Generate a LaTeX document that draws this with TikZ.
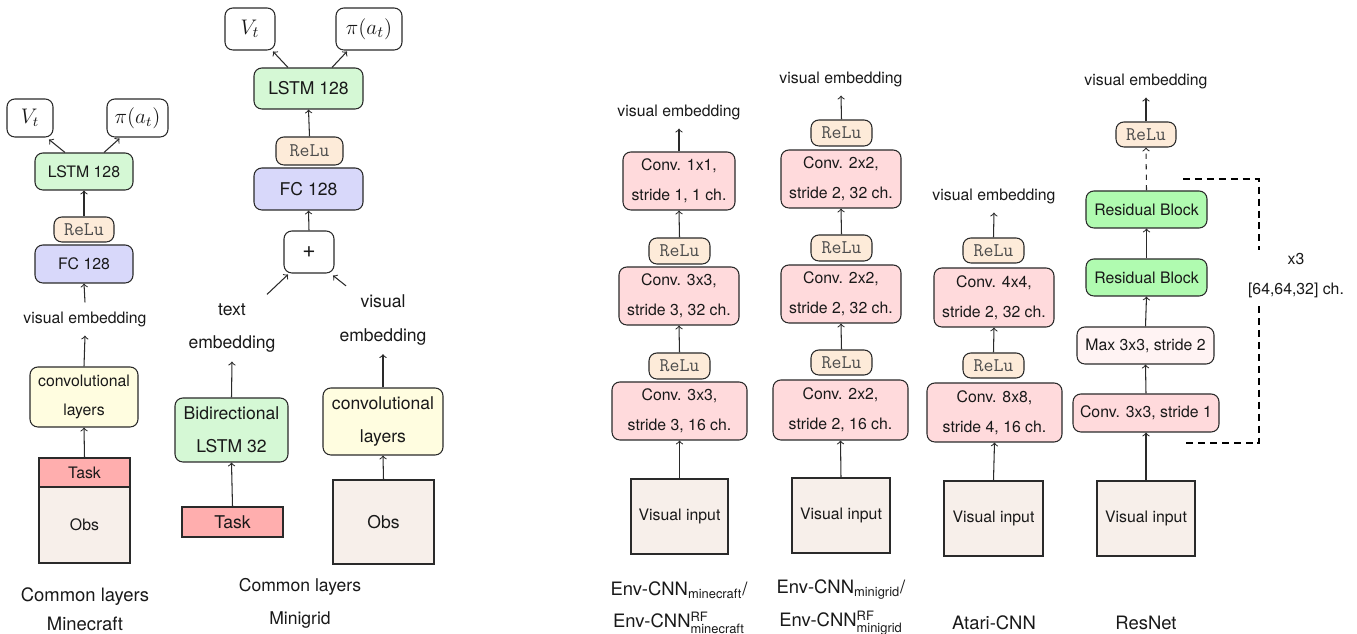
\documentclass[tikz,border=0pt]{standalone}
\usepackage{fontspec}
\usepackage{amsmath}
\setmainfont{TeX Gyre Heros}
\usetikzlibrary{calc}

\definecolor{lstmgreen}{HTML}{D5F8D5}
\definecolor{fcblue}{HTML}{D8D8FA}
\definecolor{relupeach}{HTML}{FDEBD9}
\definecolor{convyellow}{HTML}{FFFDE0}
\definecolor{taskred}{HTML}{FFAEAE}
\definecolor{obsbeige}{HTML}{F7EFEA}
\definecolor{convpink}{HTML}{FFDADC}
\definecolor{resgreen}{HTML}{B0FBB0}
\definecolor{maxpink}{HTML}{FFF3F3}
\definecolor{linegray}{HTML}{2A2A2A}

\tikzset{
	wh/.style 2 args={minimum width=#1*0.02cm, minimum height=#2*0.02cm},
	layer/.style={draw=linegray, line width=0.6pt, rounded corners=4.5pt, align=center, inner sep=0pt, text=black!90},
	inputbox/.style={draw=linegray, line width=0.6pt, fill=obsbeige, align=center, inner sep=0pt, text=black!90},
	relubox/.style={layer, fill=relupeach, font=\ttfamily\fontsize{11}{12}\selectfont, text=black!70},
	embtext/.style={inner sep=5pt, align=center, text=black!90},
	caption/.style={align=center, text=black!90, font=\fontsize{10.5}{16.5}\selectfont},
	capline/.style={anchor=base, inner sep=1pt, text=black!90, font=\fontsize{10.5}{12}\selectfont},
	flow/.style={->, draw=linegray, line width=0.6pt},
}

\begin{document}
\begin{tikzpicture}[x=0.02cm, y=-0.02cm, font=\fontsize{9}{17}\selectfont]
	\useasboundingbox (0,0) rectangle (1357,634);
	% Common layers, Minecraft
	\node[layer, wh={46}{38}, font=\fontsize{11.5}{13}\selectfont] (mcV) at (30,118) {$V_t$};
	\node[layer, wh={61}{38}, font=\fontsize{11.5}{13}\selectfont] (mcPi) at (137.5,118) {$\pi(a_t)$};
	\node[layer, fill=lstmgreen, wh={98}{37}] (mcLstm) at (84,171.5) {LSTM 128};
	\node[relubox, wh={60}{25}] (mcRelu) at (84,229.5) {ReLu};
	\node[layer, fill=fcblue, wh={98}{38}] (mcFc) at (84,264) {FC 128};
	\node[embtext] (mcEmb) at (85,319) {visual embedding};
	\node[layer, fill=convyellow, wh={108}{60}] (mcConv) at (84,397) {convolutional\\layers};
	\node[inputbox, fill=taskred, wh={91}{29}] (mcTask) at (84.5,472.5) {Task};
	\node[inputbox, wh={91}{76}] (mcObs) at (84.5,525) {Obs};
	\node[caption] (mcCap) at (85,609.5) {Common layers\\Minecraft};
	\draw[flow] (mcTask.north) -- (mcConv.south);
	\draw[flow] (mcConv.north) -- (mcEmb.south);
	\draw[flow] (mcEmb.north) -- (mcFc.south);
	\draw[flow] (mcRelu.north) -- (mcLstm.south);
	\draw[flow] ($(mcLstm.north)+(-19,0)$) -- ($(mcV.south)+(19,2)$);
	\draw[flow] ($(mcLstm.north)+(20,0)$) -- ($(mcPi.south)+(-18,1)$);

	% Common layers, Minigrid
	\begin{scope}[font=\fontsize{10}{19}\selectfont]
	\node[layer, wh={50}{42}, font=\fontsize{12.5}{14}\selectfont] (mgV) at (250,29) {$V_t$};
	\node[layer, wh={66}{42}, font=\fontsize{12.5}{14}\selectfont] (mgPi) at (369,29) {$\pi(a_t)$};
	\node[layer, fill=lstmgreen, wh={109}{41}] (mgLstm) at (308.5,88.5) {LSTM 128};
	\node[relubox, wh={67}{28}] (mgRelu) at (309.5,151) {ReLu};
	\node[layer, fill=fcblue, wh={109}{42}] (mgFc) at (308.5,189) {FC 128};
	\node[layer, wh={50}{42}] (mgPlus) at (309,252) {\fontsize{13}{14}\selectfont +};
	\node[embtext] (mgTxt) at (232,328) {text\\embedding};
	\node[embtext] (mgVis) at (383,320) {visual\\embedding};
	\node[layer, fill=lstmgreen, wh={113}{64}] (mgBi) at (231.5,430) {Bidirectional\\LSTM 32};
	\node[inputbox, fill=taskred, wh={101}{30}] (mgTask) at (232.5,522) {Task};
	\node[layer, fill=convyellow, wh={120}{67}] (mgConv) at (383,421.5) {convolutional\\layers};
	\node[inputbox, wh={101}{84}] (mgObs) at (383.5,522) {Obs};
	\node[caption, font=\fontsize{10}{18.7}\selectfont] (mgCap) at (300,603.5) {Common layers\\Minigrid};
	\end{scope}
	\draw[flow] (mgTask.north) -- (mgBi.south);
	\draw[flow] (mgBi.north) -- (mgTxt.south);
	\draw[flow] (mgObs.north) -- (mgConv.south);
	\draw[flow] (mgConv.north) -- (mgVis.south);
	\draw[flow] ($(mgTxt.north)+(35,0)$) -- ($(mgPlus.south)+(-21,1)$);
	\draw[flow] ($(mgVis.north)+(-37,0)$) -- ($(mgPlus.south)+(24,2)$);
	\draw[flow] (mgPlus.north) -- (mgFc.south);
	\draw[flow] (mgRelu.north) -- (mgLstm.south);
	\draw[flow] ($(mgLstm.north)+(-20.5,0)$) -- ($(mgV.south)+(23,1)$);
	\draw[flow] ($(mgLstm.north)+(23.5,0)$) -- ($(mgPi.south)+(-22,1)$);

	% Env-CNN minecraft
	\node[embtext] (emcEmb) at (679,112) {visual embedding};
	\node[layer, fill=convpink, wh={112}{58}] (emcConv3) at (679,181) {Conv. 1x1,\\stride 1, 1 ch.};
	\node[relubox, wh={61}{26}] (emcRelu2) at (679.5,251) {ReLu};
	\node[layer, fill=convpink, wh={120}{58}] (emcConv2) at (679,296) {Conv. 3x3,\\stride 3, 32 ch.};
	\node[relubox, wh={61}{26}] (emcRelu1) at (679.5,366) {ReLu};
	\node[layer, fill=convpink, wh={135}{58}] (emcConv1) at (679.5,411) {Conv. 3x3,\\stride 3, 16 ch.};
	\node[inputbox, wh={97}{75}] (emcIn) at (679.5,516.5) {Visual input};
	\node[capline] (emcCapA) at (679,596) {Env-CNN$_{\text{minecraft}}$/};
	\node[capline] (emcCapB) at (679,628) {Env-CNN$^{\text{RF}}_{\text{minecraft}}$};
	\draw[flow] (emcIn.north) -- (emcConv1.south);
	\draw[flow] (emcRelu1.north) -- (emcConv2.south);
	\draw[flow] (emcRelu2.north) -- (emcConv3.south);
	\draw[flow] (emcConv3.north) -- (emcEmb.south);

	% Env-CNN minigrid
	\node[embtext] (emgEmb) at (841,79) {visual embedding};
	\node[relubox, wh={61}{26}] (emgRelu3) at (841.5,133) {ReLu};
	\node[layer, fill=convpink, wh={120}{58}] (emgConv3) at (841,179) {Conv. 2x2,\\stride 2, 32 ch.};
	\node[relubox, wh={61}{26}] (emgRelu2) at (841.5,248) {ReLu};
	\node[layer, fill=convpink, wh={120}{58}] (emgConv2) at (841,294) {Conv. 2x2,\\stride 2, 32 ch.};
	\node[relubox, wh={61}{25}] (emgRelu1) at (841.5,362.5) {ReLu};
	\node[layer, fill=convpink, wh={135}{60}] (emgConv1) at (840.5,410) {Conv. 2x2,\\stride 2, 16 ch.};
	\node[inputbox, wh={98}{75}] (emgIn) at (841,515.5) {Visual input};
	\node[capline] (emgCapA) at (841,594) {Env-CNN$_{\text{minigrid}}$/};
	\node[capline] (emgCapB) at (841,627) {Env-CNN$^{\text{RF}}_{\text{minigrid}}$};
	\draw[flow] (emgIn.north) -- (emgConv1.south);
	\draw[flow] (emgRelu1.north) -- (emgConv2.south);
	\draw[flow] (emgRelu2.north) -- (emgConv3.south);
	\draw[flow] (emgRelu3.north) -- (emgEmb.south);

	% Atari-CNN
	\node[embtext] (ataEmb) at (994,196) {visual embedding};
	\node[relubox, wh={61}{25}] (ataRelu2) at (993.5,250.5) {ReLu};
	\node[layer, fill=convpink, wh={120}{59}] (ataConv2) at (994,297.5) {Conv. 4x4,\\stride 2, 32 ch.};
	\node[relubox, wh={61}{25}] (ataRelu1) at (993.5,365.5) {ReLu};
	\node[layer, fill=convpink, wh={135}{59}] (ataConv1) at (994.5,412.5) {Conv. 8x8,\\stride 4, 16 ch.};
	\node[inputbox, wh={99}{75}] (ataIn) at (993.5,518.5) {Visual input};
	\node[caption] (ataCap) at (994,623) {Atari-CNN};
	\draw[flow] (ataIn.north) -- (ataConv1.south);
	\draw[flow] (ataRelu1.north) -- (ataConv2.south);
	\draw[flow] (ataRelu2.north) -- (ataEmb.south);

	% ResNet
	\node[embtext] (resEmb) at (1146,81) {visual embedding};
	\node[relubox, wh={60}{25}] (resRelu) at (1146,134.5) {ReLu};
	\node[layer, fill=resgreen, wh={121}{37}] (resBlockB) at (1146.5,209.5) {Residual Block};
	\node[layer, fill=resgreen, wh={121}{37}] (resBlockA) at (1146.5,277.5) {Residual Block};
	\node[layer, fill=maxpink, wh={137}{37}] (resMax) at (1145.5,345.5) {Max 3x3, stride 2};
	\node[layer, fill=convpink, wh={146}{38}] (resConv) at (1146,413) {Conv. 3x3, stride 1};
	\node[inputbox, wh={98}{75}] (resIn) at (1146,518.5) {Visual input};
	\node[caption] (resCap) at (1146,623) {ResNet};
	\draw[flow] (resIn.north) -- (resConv.south);
	\draw[flow] (resConv.north) -- (resMax.south);
	\draw[flow] (resMax.north) -- (resBlockA.south);
	\draw[flow] (resBlockA.north) -- (resBlockB.south);
	\draw[flow, dashed] (resBlockB.north) -- (resRelu.south);
	\draw[flow] (resRelu.north) -- (resEmb.south);
	% repeat bracket
	\coordinate (brTop) at (1183,179);
	\coordinate (brBot) at (1183,443);
	\draw[line width=1.2pt, dash pattern=on 4pt off 2.8pt] (brTop) -| (1259,443) -- (brBot);
	\node[fill=white, align=center, text=black!90, inner sep=2pt] (resRep) at (1296,276) {x3\\{[64,64,32]} ch.};
\end{tikzpicture}
\end{document}
